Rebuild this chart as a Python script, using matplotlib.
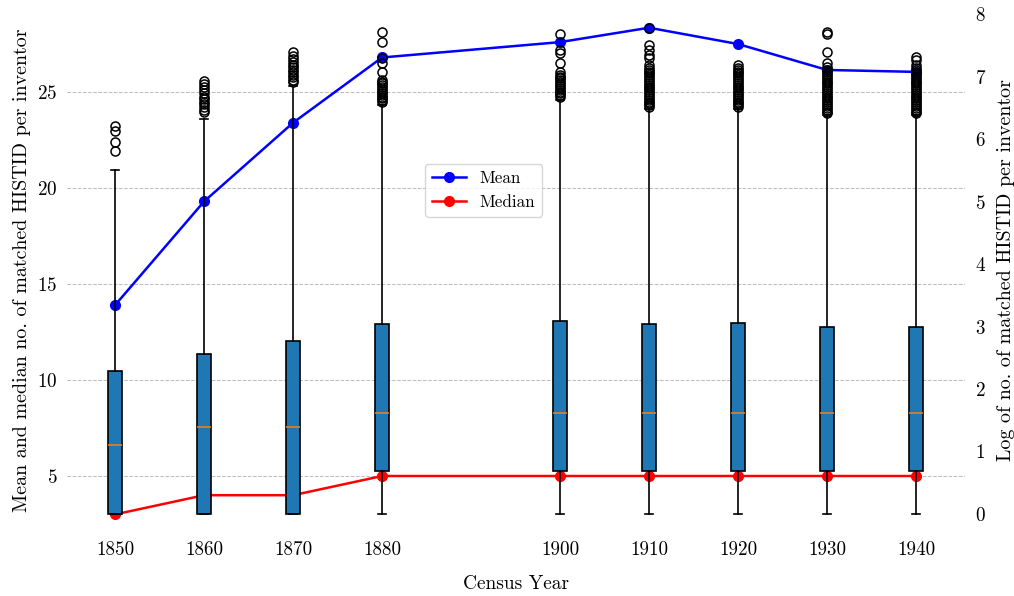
import matplotlib
matplotlib.use("Agg")
import matplotlib.pyplot as plt

plt.rcParams["font.family"] = ["cmr10", "DejaVu Sans"]
plt.rcParams["axes.formatter.use_mathtext"] = True
plt.rcParams["mathtext.fontset"] = "cm"

# census years
years = [1850, 1860, 1870, 1880, 1900, 1910, 1920, 1930, 1940]

# mean / median matched HISTID per inventor (left axis)
mean_vals = [13.9, 19.3, 23.4, 26.8, 27.6, 28.35, 27.5, 26.15, 26.05]
median_vals = [3, 4, 4, 5, 5, 5, 5, 5, 5]

# box stats of log(no. of matched HISTID) (right axis)
q1_vals = [0.0, 0.0, 0.0, 0.69, 0.69, 0.69, 0.69, 0.69, 0.69]
med_vals = [1.10, 1.39, 1.39, 1.61, 1.61, 1.61, 1.61, 1.61, 1.61]
q3_vals = [2.29, 2.56, 2.77, 3.04, 3.09, 3.04, 3.05, 2.99, 2.99]
whislo_vals = [0.0, 0.0, 0.0, 0.0, 0.0, 0.0, 0.0, 0.0, 0.0]
whishi_vals = [5.50, 6.32, 6.85, 6.55, 6.62, 6.48, 6.48, 6.38, 6.38]
fliers = [
    [5.81, 5.95, 6.13, 6.21],
    [6.43, 6.47, 6.52, 6.56, 6.60, 6.64, 6.68, 6.73, 6.78, 6.83, 6.88, 6.93],
    [6.91, 6.95, 6.99, 7.03, 7.07, 7.11, 7.15, 7.19, 7.23, 7.28, 7.33, 7.39],
    [6.59, 6.62, 6.65, 6.68, 6.71, 6.74, 6.77, 6.80, 6.83, 6.86, 6.89, 6.92,
     6.94, 7.07, 7.22, 7.30, 7.55, 7.71],
    [6.67, 6.70, 6.73, 6.76, 6.79, 6.82, 6.85, 6.88, 6.91, 6.94, 6.97, 7.00,
     7.03, 7.07, 7.21, 7.37, 7.42, 7.68],
    [6.51, 6.54, 6.57, 6.60, 6.63, 6.66, 6.69, 6.72, 6.75, 6.78, 6.81, 6.84,
     6.87, 6.90, 6.93, 6.96, 6.99, 7.02, 7.05, 7.08, 7.11, 7.14, 7.18, 7.30,
     7.34, 7.42, 7.50, 7.78],
    [6.51, 6.54, 6.57, 6.60, 6.63, 6.66, 6.69, 6.72, 6.75, 6.78, 6.81, 6.84,
     6.87, 6.90, 6.93, 6.96, 6.99, 7.02, 7.05, 7.08, 7.11, 7.14, 7.18],
    [6.41, 6.44, 6.47, 6.50, 6.53, 6.56, 6.59, 6.62, 6.65, 6.68, 6.71, 6.74,
     6.77, 6.80, 6.83, 6.86, 6.89, 6.92, 6.95, 6.98, 7.01, 7.04, 7.07, 7.10,
     7.15, 7.21, 7.39, 7.68, 7.71],
    [6.41, 6.44, 6.47, 6.50, 6.53, 6.56, 6.59, 6.62, 6.65, 6.68, 6.71, 6.74,
     6.77, 6.80, 6.83, 6.86, 6.89, 6.92, 6.95, 6.98, 7.01, 7.04, 7.07, 7.10,
     7.14, 7.18, 7.26, 7.31],
]

fig = plt.figure(figsize=(10.14, 5.96), dpi=100)
ax = fig.add_axes([67/1014, 58/596, 898/1014, 536/596])
ax2 = ax.twinx()

ax.plot(years, mean_vals, color="blue", marker="o", ms=7, lw=1.8, label="Mean")
ax.plot(years, median_vals, color="red", marker="o", ms=7, lw=1.8, label="Median")

stats = []
for i in range(len(years)):
    stats.append({"q1": q1_vals[i], "med": med_vals[i], "q3": q3_vals[i],
                  "whislo": whislo_vals[i], "whishi": whishi_vals[i],
                  "fliers": fliers[i]})

ax2.bxp(stats, positions=years, widths=1.6, patch_artist=True, manage_ticks=False,
        boxprops=dict(facecolor="#1f77b4", edgecolor="black", lw=1.2),
        medianprops=dict(color="#ff7f0e", lw=1.1),
        whiskerprops=dict(color="black", lw=1.2),
        capprops=dict(color="black", lw=1.2),
        flierprops=dict(marker="o", markerfacecolor="none", markeredgecolor="black",
                        markersize=6.5, markeredgewidth=1.1))

ax.set_xlim(1844.6, 1945.5)
ax.set_ylim(1.771, 29.69)
ax2.set_ylim(-0.384, 8.192)

ax.set_xticks(years)
ax.set_xticklabels([str(y) for y in years])
ax.set_yticks([5, 10, 15, 20, 25])
ax2.set_yticks(range(0, 9))

for a in (ax, ax2):
    for s in a.spines.values():
        s.set_visible(False)
    a.tick_params(axis="both", length=0, labelsize=13.8, pad=7)
ax.tick_params(axis="x", pad=2)

ax.grid(axis="y", color="#bbbbbb", ls="--", lw=0.7)
ax.set_xlabel("Census Year", fontsize=14, labelpad=12)
ax.set_ylabel("Mean and median no. of matched HISTID per inventor", fontsize=14.4)
ax2.set_ylabel("Log of no. of matched HISTID per inventor", fontsize=14.4, labelpad=8)

ax.legend(loc="center", bbox_to_anchor=(0.464, 0.649), fontsize=12.3)

fig.savefig("out.png", dpi=100)
